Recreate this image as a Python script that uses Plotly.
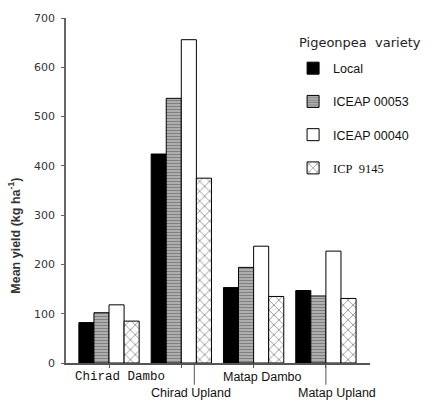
import plotly.graph_objects as go

categories = ["Chirad Dambo", "Chirad Upland", "Matap Dambo", "Matap Upland"]
varieties = ["Local", "ICEAP 00053", "ICEAP 00040", "ICP 9145"]
local = [82, 424, 153, 147]
iceap_00053 = [102, 537, 194, 136]
iceap_00040 = [118, 656, 237, 227]
icp_9145 = [85, 375, 135, 131]
y_ticks = [0, 100, 200, 300, 400, 500, 600, 700]

series = [local, iceap_00053, iceap_00040, icp_9145]
styles = [
    dict(color="black", pattern=None),
    dict(color="#bdbdbd", pattern=dict(shape="-", fgcolor="#444", bgcolor="#bdbdbd", size=3, solidity=0.5)),
    dict(color="white", pattern=None),
    dict(color="white", pattern=dict(shape="x", fgcolor="#333", bgcolor="white", size=7, solidity=0.25)),
]
names = ["Local", "ICEAP 00053", "ICEAP 00040",
         '<span style="font-family:Liberation Serif">ICP&nbsp;&nbsp;9145</span>']

fig = go.Figure()
for i, (vals, st) in enumerate(zip(series, styles)):
    marker = dict(color=st["color"], line=dict(color="black", width=1))
    if st["pattern"]:
        marker["pattern"] = st["pattern"]
    fig.add_trace(go.Bar(x=categories, y=vals, name=names[i], marker=marker,
                         legendgroup=str(i)))

fig.update_layout(
    width=436, height=401,
    margin=dict(l=66, r=66, t=13, b=38),
    paper_bgcolor="white", plot_bgcolor="white",
    barmode="group", bargap=0.166, bargroupgap=0,
    font=dict(family="Liberation Sans", color="#222"),
    showlegend=True,
    legend=dict(
        x=0.747, y=0.897, xanchor="left", yanchor="top",
        font=dict(family="Liberation Sans", size=12.5, color="#111"),
        tracegroupgap=14, bgcolor="rgba(0,0,0,0)",
    ),
    xaxis=dict(
        type="category", range=[-0.595, 3.61],
        showticklabels=False, ticks="outside", ticklen=3, tickcolor="#555",
        showline=True, linecolor="#555", linewidth=1.5, showgrid=False, zeroline=False,
    ),
    yaxis=dict(
        range=[0, 700], tickvals=y_ticks, ticks="outside", ticklen=3, tickcolor="#666",
        showline=True, linecolor="#666", linewidth=1.5, showgrid=False, zeroline=False,
        tickfont=dict(family="DejaVu Sans", size=11, color="#333"), ticklabelstandoff=4,
    ),
)

# legend heading
fig.add_annotation(
    text="Pigeonpea  variety", showarrow=False, xref="paper", yref="paper",
    x=0.76, y=0.929, xanchor="left", yanchor="middle",
    font=dict(family="DejaVu Sans", size=13, color="#222"),
)

# Category labels (alternating rows, as in the original figure)
label_specs = [
    (categories[0], 11, -14, "Liberation Mono", 12.5),
    (categories[1], 10, -30, "Liberation Sans", 12.5),
    (categories[2], 9, -14, "Liberation Sans", 12.5),
    (categories[3], 11, -30, "Liberation Sans", 12.5),
]
for cat, xs, ys, fam, sz in label_specs:
    fig.add_annotation(x=cat, y=0, xref="x", yref="y", text=cat, showarrow=False,
                       xshift=xs, yshift=ys, font=dict(family=fam, size=sz, color="#111"))

# long ticks under the second-row labels
for cat, off in [(categories[1], 0.18), (categories[3], 0.0)]:
    idx = categories.index(cat)
    fig.add_shape(type="line", xref="x", yref="paper", x0=idx + off, x1=idx + off,
                  y0=0, y1=-0.063, line=dict(color="#555", width=1))

fig.add_annotation(
    text="<b>Mean yield (kg ha<sup>-1</sup>)</b>", textangle=-90, showarrow=False,
    xref="paper", yref="paper", x=-0.171, y=0.369, xanchor="center", yanchor="middle",
    font=dict(family="Liberation Sans", size=12.5, color="#333"),
)

fig.write_html("out.html")
